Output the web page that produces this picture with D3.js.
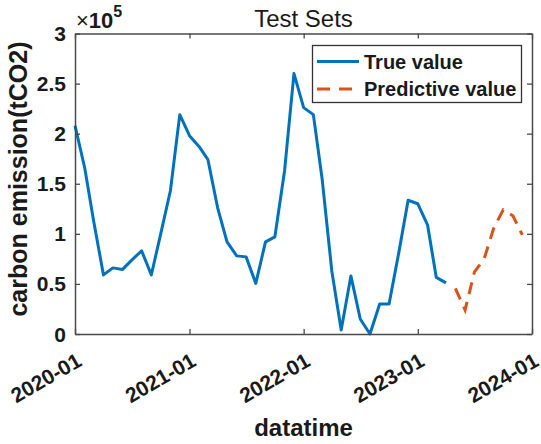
<!DOCTYPE html>
<html>
<head>
<meta charset="utf-8">
<script src="https://cdn.jsdelivr.net/npm/d3@7"></script>
<style>
  html, body { margin: 0; padding: 0; background: #fff; }
  svg { display: block; font-family: "Liberation Sans", Arial, sans-serif; }
</style>
</head>
<body>
<svg id="chart" width="541" height="444"></svg>
<script>
// Monthly carbon emission, in units of 1e5 tCO2
const trueStart = "2020-01";
const trueValues = [
  2.08, 1.66, 1.12, 0.59, 0.66, 0.645, 0.74, 0.83, 0.59, 1.00, 1.43, 2.19,
  1.98, 1.87, 1.74, 1.26, 0.92, 0.78, 0.77, 0.505, 0.92, 0.97, 1.63, 2.60,
  2.26, 2.19, 1.55, 0.63, 0.04, 0.58, 0.15, 0.00, 0.30, 0.30, 0.81, 1.335,
  1.30, 1.09, 0.565, 0.51
];
const predStart = "2023-05";
const predValues = [0.455, 0.24, 0.62, 0.75, 1.06, 1.24, 1.18, 0.99];

const xTickLabels = ["2020-01", "2021-01", "2022-01", "2023-01", "2024-01"];
const yTicks = [0, 0.5, 1, 1.5, 2, 2.5, 3];
const seriesNames = ["True value", "Predictive value"];
const titleText = "Test Sets";
const xLabel = "datatime";
const yLabel = "carbon emission(tCO2)";

const parseMonth = d3.timeParse("%Y-%m");
const toSeries = (start, values) => {
  const s = parseMonth(start);
  return values.map((v, i) => ({ date: d3.timeMonth.offset(s, i), value: v }));
};
const trueData = toSeries(trueStart, trueValues);
const predData = toSeries(predStart, predValues);

const svg = d3.select("#chart");
const L = 75, R = 532, T = 33.5, B = 334;
const axisColor = "#4a4a4a";
const textColor = "#1a1a1a";

const x = d3.scaleTime()
  .domain([parseMonth(xTickLabels[0]), parseMonth(xTickLabels[xTickLabels.length - 1])])
  .range([L, R]);
const y = d3.scaleLinear().domain([0, 3]).range([B, T]);
const xTickDates = xTickLabels.map(parseMonth);

// series lines
const line = d3.line().x(d => x(d.date)).y(d => y(d.value));
svg.append("path").datum(trueData)
  .attr("d", line).attr("fill", "none")
  .attr("stroke", "#0072BD").attr("stroke-width", 3)
  .attr("stroke-linejoin", "round");
svg.append("path").datum(predData)
  .attr("d", line).attr("fill", "none")
  .attr("stroke", "#D95319").attr("stroke-width", 3)
  .attr("stroke-dasharray", "12,8");

// axes box with inward ticks on all four sides
const tickLen = 5;
const makeAxis = (fn, scale, ticks) =>
  fn(scale).tickValues(ticks).tickSize(-tickLen).tickSizeOuter(0).tickFormat("");
const styleAxis = g => {
  g.selectAll("path.domain").attr("stroke", axisColor).attr("stroke-width", 1.5);
  g.selectAll(".tick line").attr("stroke", axisColor).attr("stroke-width", 1.3);
};
svg.append("g").attr("transform", `translate(0,${B})`).call(makeAxis(d3.axisBottom, x, xTickDates)).call(styleAxis);
svg.append("g").attr("transform", `translate(0,${T})`).call(makeAxis(d3.axisTop, x, xTickDates)).call(styleAxis);
svg.append("g").attr("transform", `translate(${L},0)`).call(makeAxis(d3.axisLeft, y, yTicks)).call(styleAxis);
svg.append("g").attr("transform", `translate(${R},0)`).call(makeAxis(d3.axisRight, y, yTicks)).call(styleAxis);

// y tick labels
svg.append("g").selectAll("text").data(yTicks).join("text")
  .attr("x", L - 9).attr("y", d => y(d)).attr("dy", "0.36em")
  .attr("text-anchor", "end").attr("font-size", 21).attr("font-weight", "bold")
  .attr("fill", textColor).text(d => d3.format("")(d));

// x tick labels, rotated
svg.append("g").selectAll("text").data(xTickDates).join("text")
  .attr("transform", d => `translate(${x(d) + 8},${365}) rotate(-30)`)
  .attr("text-anchor", "end").attr("font-size", 21).attr("font-weight", "bold")
  .attr("fill", textColor).text((d, i) => xTickLabels[i]);

// exponent marker
const expo = svg.append("text").attr("x", L + 1).attr("y", 27.5).attr("fill", textColor);
expo.append("tspan").attr("font-size", 22).text("×");
expo.append("tspan").attr("font-size", 22).attr("font-weight", "bold").text("10");
expo.append("tspan").attr("font-size", 16).attr("font-weight", "bold").attr("dy", -11).text("5");

// title and axis labels
svg.append("text").attr("x", (L + R) / 2).attr("y", 27)
  .attr("text-anchor", "middle").attr("font-size", 24).attr("fill", textColor).text(titleText);
svg.append("text").attr("x", (L + R) / 2).attr("y", 436)
  .attr("text-anchor", "middle").attr("font-size", 24).attr("font-weight", "bold")
  .attr("fill", textColor).text(xLabel);
svg.append("text").attr("transform", `translate(27,${(40 + 318) / 2}) rotate(-90)`)
  .attr("text-anchor", "middle").attr("font-size", 25).attr("font-weight", "bold")
  .attr("fill", textColor).text(yLabel);

// legend
const lg = svg.append("g");
lg.append("rect").attr("x", 312.5).attr("y", 45.5).attr("width", 209).attr("height", 57)
  .attr("fill", "#fff").attr("stroke", "#333").attr("stroke-width", 1.3);
const legendRows = [
  { name: seriesNames[0], color: "#0072BD", dash: null, cy: 61.5 },
  { name: seriesNames[1], color: "#D95319", dash: "13,9", cy: 89 }
];
legendRows.forEach(r => {
  lg.append("line").attr("x1", 317).attr("x2", 359).attr("y1", r.cy).attr("y2", r.cy)
    .attr("stroke", r.color).attr("stroke-width", 3).attr("stroke-dasharray", r.dash);
  lg.append("text").attr("x", 364).attr("y", r.cy).attr("dy", "0.36em")
    .attr("font-size", 20).attr("font-weight", "bold").attr("fill", textColor).text(r.name);
});
</script>
</body>
</html>
